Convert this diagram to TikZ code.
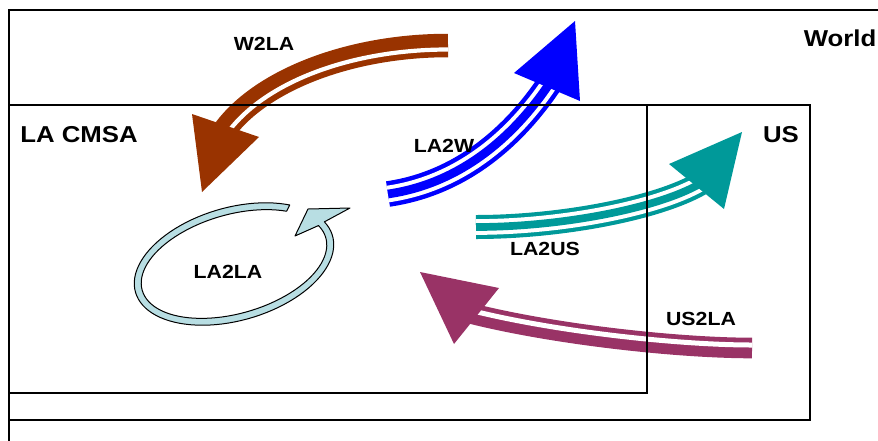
\documentclass[tikz,border=0pt]{standalone}
\usepackage{fontspec}
\setmainfont{Liberation Sans}[FakeStretch=1.12]

\begin{document}
\begin{tikzpicture}[x=1pt, y=-1pt]
\definecolor{w2la_color}{RGB}{153,51,0}
\definecolor{la2w_color}{RGB}{0,0,255}
\definecolor{la2us_color}{RGB}{0,153,153}
\definecolor{us2la_color}{RGB}{153,51,102}
\definecolor{la2la_color}{RGB}{184,222,227}

\tikzset{
  region/.style={draw=black, line width=2pt},
  worldregion/.style={draw=black, line width=1.4pt},
  regionlabel/.style={inner sep=0pt, font=\bfseries\fontsize{23}{27}\selectfont},
  flowlabel/.style={inner sep=0pt, font=\bfseries\fontsize{19}{22}\selectfont},
  ring/.style={draw=black, line width=1pt, fill=la2la_color, line join=round},
}

\useasboundingbox (0,0) rectangle (878,440);
\clip (0,0) rectangle (878,440);

% W2LA
\draw[w2la_color, line width=23.5] (448,45.5) .. controls (350,45.5) and (262,80) .. (225,129.5);
\draw[white, line width=4.2] (448,49.5) .. controls (350,49.5) and (265.2,82.4) .. (228.2,131.9);
\fill[w2la_color] (192,114) -- (259,137) -- (202,192) -- cycle;

% LA2W
\draw[la2w_color, line width=25.7] (388,194) .. controls (470,182) and (522,125) .. (550.5,82);
\draw[white, line width=4, double=la2w_color, double distance=8.7] (388,194) .. controls (470,182) and (522,125) .. (550.5,82);
\fill[la2w_color] (514,73) -- (575,21) -- (580,101) -- cycle;

% LA2US
\draw[la2us_color, line width=24] (476,227) .. controls (560,227) and (656.7,208.7) .. (700.2,183.7);
\draw[white, line width=4, double=la2us_color, double distance=7.7] (476,227) .. controls (560,227) and (656.7,208.7) .. (700.2,183.7);
\fill[la2us_color] (669,164) -- (742,132) -- (724,209) -- cycle;

% US2LA
\draw[us2la_color, line width=20.6] (752,348) .. controls (680,348) and (556,335) .. (469,313);
\draw[white, line width=5] (752,345) .. controls (680,345) and (556.7,332.1) .. (469.7,310.1);
\fill[us2la_color] (420,272) -- (499,288) -- (454,344) -- cycle;

% LA2LA
\draw[ring] plot[domain=-47:-376, samples=90, variable=\t]
    ({234+102.5*cos(\t)*0.961+56.5*sin(\t)*0.276}, {264-102.5*cos(\t)*0.276+56.5*sin(\t)*0.961})
  -- (350,208) -- (308,209) -- (295,236)
  -- plot[domain=-376:-47, samples=90, variable=\t]
    ({234+95.5*cos(\t)*0.961+49.5*sin(\t)*0.276}, {264-95.5*cos(\t)*0.276+49.5*sin(\t)*0.961})
  -- cycle;

% regions
\draw[worldregion] (9,460) -- (9,10) -- (900,10);
\draw[region] (9,105) rectangle (810,420);
\draw[region] (9,105) rectangle (647,393);

\node[regionlabel] (world) at (840,38) {World};
\node[regionlabel] (lacmsa) at (79,135) {LA CMSA};
\node[regionlabel] (us) at (781,135) {US};

\node[flowlabel] (w2la) at (264,44) {W2LA};
\node[flowlabel] (la2w) at (444,146) {LA2W};
\node[flowlabel] (la2us) at (545,249) {LA2US};
\node[flowlabel] (us2la) at (701,319) {US2LA};
\node[flowlabel] (la2la) at (228,272) {LA2LA};
\end{tikzpicture}
\end{document}
